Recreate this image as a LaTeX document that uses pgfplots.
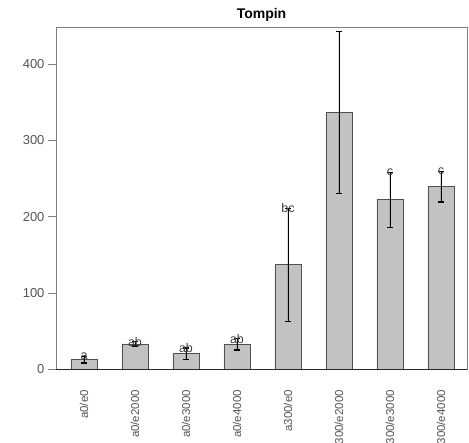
\documentclass[border=0pt]{standalone}
\usepackage{pgfplots}
\pgfplotsset{compat=1.18}
\usepackage{pgfplotstable}
\usepackage{fontspec}
\setmainfont{Liberation Sans}
\definecolor{barfill}{HTML}{C2C2C2}
\definecolor{baredge}{HTML}{505050}
\definecolor{boxgray}{HTML}{808080}
\definecolor{ticktext}{HTML}{555555}

\pgfplotstableread{
x  y    err
0  13   4.5
1  33.4 2.7
2  20.5 7.5
3  32.8 7.3
4  137  74
5  336  106
6  222  36
7  239  20
}\means

\pgfplotstableread{
x  top   lab
0  17.5  a
1  36.1  ab
2  28.0  ab
3  40.1  ab
4  211   bc
6  258   c
7  259   c
}\letters

\begin{document}
\begin{tikzpicture}
\begin{axis}[
  scale only axis,
  width=411pt, height=342.5pt,
  xmin=-0.549, xmax=7.51,
  ymin=0, ymax=448,
  axis line style={boxgray},
  xtick=data,
  xticklabels={a0/e0,a0/e2000,a0/e3000,a0/e4000,a300/e0,a300/e2000,a300/e3000,a300/e4000},
  xticklabel style={rotate=90, anchor=east, font=\fontsize{11.5}{13}\selectfont, text=ticktext},
  xticklabel shift=9pt,
  major x tick style={draw=none},
  ytick={0,100,200,300,400},
  ytick pos=left,
  tick align=outside,
  major tick length=8pt,
  major y tick style={boxgray},
  yticklabel style={font=\fontsize{13}{15}\selectfont, text=ticktext},
  /pgf/number format/assume math mode=true,
  title={Tompin},
  title style={at={(0.5,1)}, anchor=base, yshift=2pt, font=\fontsize{14}{16}\selectfont\bfseries},
  clip=false,
]
\addplot[ybar, bar width=26pt, fill=barfill, draw=baredge, line width=0.8pt,
  error bars/.cd, y dir=both, y explicit,
  error bar style={black, line width=0.6pt},
  error mark options={rotate=90, mark size=3pt, line width=1.2pt, black}]
  table[x=x, y=y, y error=err] {\means};
\draw[black!70!boxgray] (axis cs:-0.549,0) -- (axis cs:7.51,0);
\addplot[draw=none, mark=none, nodes near coords, point meta=explicit symbolic,
  nodes near coords align={center},
  every node near coord/.append style={font=\fontsize{12.5}{14}\selectfont, text=black!75, inner sep=0pt}]
  table[x=x, y=top, meta=lab] {\letters};
\end{axis}
\pgfresetboundingbox
\path (-56pt,-73.5pt) rectangle (413pt,369.5pt);
\end{tikzpicture}
\end{document}
